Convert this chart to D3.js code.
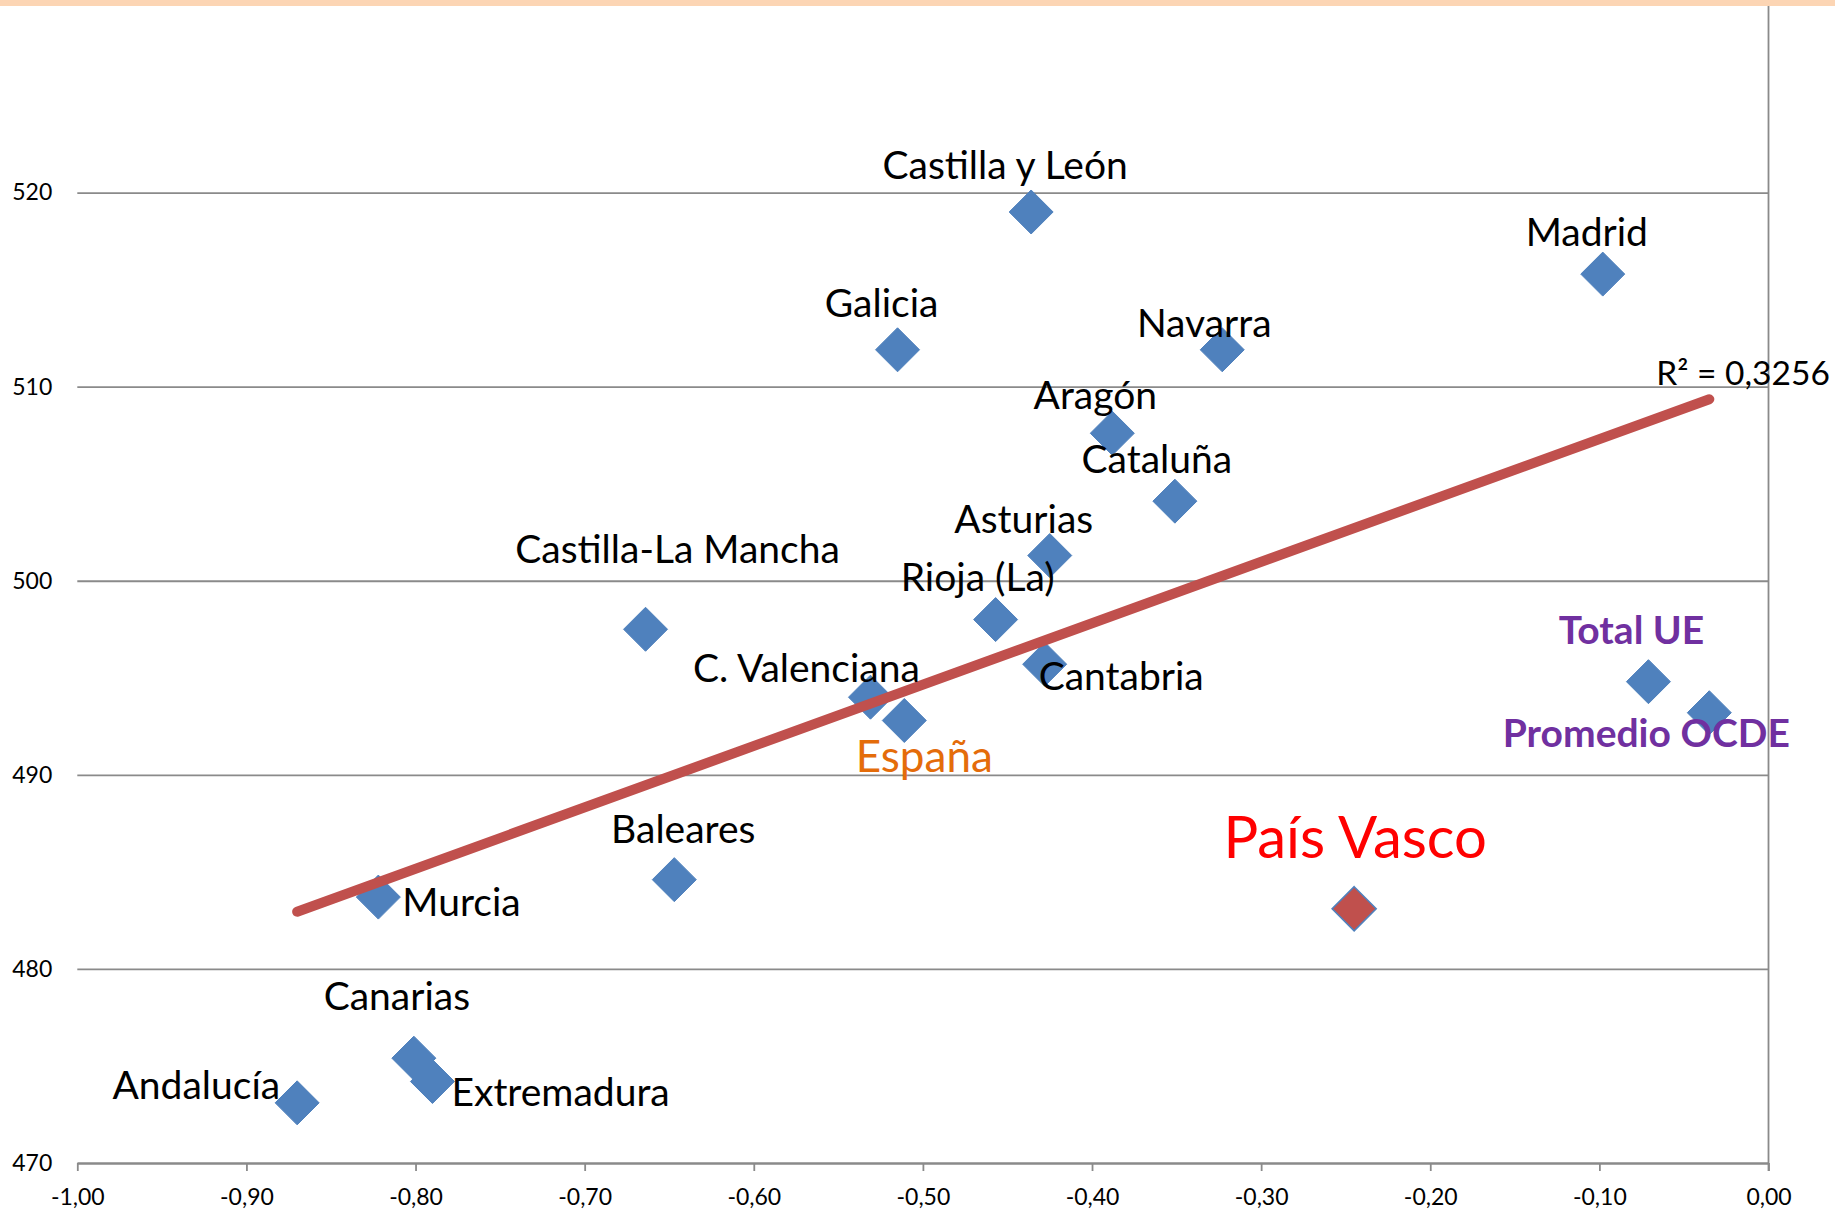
<!DOCTYPE html>
<html>
<head>
<meta charset="utf-8">
<script src="https://cdn.jsdelivr.net/npm/d3@7"></script>
<style>
  body { margin: 0; background: #fff; }
  svg { display: block; }
  text { font-family: Lato, "Open Sans", sans-serif; }
</style>
</head>
<body>
<svg id="chart" width="1835" height="1210"></svg>
<script>
// Regional scores (y) against the socio-economic index gap (x)
const regions = ["Castilla y León", "Madrid", "Galicia", "Navarra", "Aragón", "Cataluña",
  "Asturias", "Rioja (La)", "Castilla-La Mancha", "Cantabria", "C. Valenciana", "España",
  "Total UE", "Promedio OCDE", "Baleares", "Murcia", "País Vasco", "Canarias",
  "Extremadura", "Andalucía"];
const xValues = [-0.436, -0.098, -0.515, -0.323, -0.388, -0.351,
  -0.425, -0.457, -0.664, -0.428, -0.531, -0.511,
  -0.071, -0.035, -0.647, -0.822, -0.245, -0.801,
  -0.790, -0.870];
const yValues = [519.0, 515.8, 511.9, 511.9, 507.6, 504.1,
  501.3, 498.0, 497.5, 495.7, 494.0, 492.8,
  494.8, 493.2, 484.6, 483.7, 483.1, 475.4,
  474.2, 473.1];
const groups = ["region", "region", "region", "region", "region", "region",
  "region", "region", "region", "region", "region", "spain",
  "aggregate", "aggregate", "region", "region", "highlight", "region",
  "region", "region"];
const xTicks = [-1.0, -0.9, -0.8, -0.7, -0.6, -0.5, -0.4, -0.3, -0.2, -0.1, 0.0];
const yTicks = [470, 480, 490, 500, 510, 520, 530];
const r2Text = "R² = 0,3256";

// Label placement relative to each marker (baseline offsets, px)
const labelLayout = {
  "Castilla y León":    { dx: -26,  dy: -33, anchor: "middle" },
  "Madrid":             { dx: -16,  dy: -28, anchor: "middle" },
  "Galicia":            { dx: -16,  dy: -33, anchor: "middle" },
  "Navarra":            { dx: -18,  dy: -13, anchor: "middle" },
  "Aragón":             { dx: -17,  dy: -24, anchor: "middle" },
  "Cataluña":           { dx: -18,  dy: -28, anchor: "middle" },
  "Asturias":           { dx: -26,  dy: -23, anchor: "middle" },
  "Rioja (La)":         { dx: -18,  dy: -29, anchor: "middle" },
  "Castilla-La Mancha": { dx: 32,   dy: -66, anchor: "middle" },
  "Cantabria":          { dx: -6,   dy: 26,  anchor: "start" },
  "C. Valenciana":      { dx: -64,  dy: -15, anchor: "middle" },
  "España":             { dx: 20,   dy: 52,  anchor: "middle" },
  "Total UE":           { dx: -17,  dy: -38, anchor: "middle" },
  "Promedio OCDE":      { dx: -63,  dy: 34,  anchor: "middle" },
  "Baleares":           { dx: 9,    dy: -37, anchor: "middle" },
  "Murcia":             { dx: 24,   dy: 19,  anchor: "start" },
  "País Vasco":         { dx: 1,    dy: -51, anchor: "middle" },
  "Canarias":           { dx: -17,  dy: -48, anchor: "middle" },
  "Extremadura":        { dx: 19,   dy: 25,  anchor: "start" },
  "Andalucía":          { dx: -17,  dy: -4,  anchor: "end" }
};
const labelStyle = {
  region:    { fill: "#000000", size: 39, weight: 400 },
  spain:     { fill: "#E46C0A", size: 44, weight: 400 },
  aggregate: { fill: "#7030A0", size: 39, weight: 700 },
  highlight: { fill: "#FF0000", size: 58, weight: 400 }
};
const markerStyle = {
  region:    { fill: "#4F81BD", stroke: "#4F81BD", sw: 1 },
  spain:     { fill: "#4F81BD", stroke: "#4F81BD", sw: 1 },
  aggregate: { fill: "#4F81BD", stroke: "#4F81BD", sw: 1 },
  highlight: { fill: "#C0504D", stroke: "#4F81BD", sw: 1.6 }
};

const points = regions.map((name, i) => ({ name, x: xValues[i], y: yValues[i], group: groups[i] }));

const svg = d3.select("#chart");
const W = 1835, H = 1210;
svg.append("rect").attr("width", W).attr("height", H).attr("fill", "#fff");

const x = d3.scaleLinear().domain([-1, 0]).range([77.3, 1768.5]);
const y = d3.scaleLinear().domain([470, 530]).range([1163, -1.5]);

const locale = d3.formatLocale({ decimal: ",", thousands: ".", grouping: [3], currency: ["", "€"], minus: "-" });
const fmtX = locale.format(".2f");

const gridColor = "#8a8a8a";

// Horizontal gridlines with value labels on the left
const yAxis = svg.append("g")
  .attr("transform", `translate(${x(-1)},0)`)
  .call(d3.axisLeft(y).tickValues(yTicks).tickSize(-(x(0) - x(-1))).tickPadding(25).tickFormat(d3.format("d")));
yAxis.select(".domain").remove();
yAxis.selectAll(".tick line").attr("stroke", gridColor).attr("stroke-width", 1.8);
yAxis.selectAll(".tick text").attr("fill", "#000").attr("font-size", 23);

// Horizontal axis at the bottom
const xAxis = svg.append("g")
  .attr("transform", `translate(0,${y(470)})`)
  .call(d3.axisBottom(x).tickValues(xTicks).tickSize(8).tickSizeOuter(0).tickFormat(fmtX));
xAxis.select(".domain").attr("stroke", gridColor).attr("stroke-width", 1.8);
xAxis.selectAll(".tick line").attr("stroke", gridColor).attr("stroke-width", 1.8);
xAxis.selectAll(".tick text").attr("fill", "#000").attr("font-size", 23).attr("y", 42).attr("dy", null);

// Vertical axis line where x = 0
svg.append("line")
  .attr("x1", x(0)).attr("x2", x(0))
  .attr("y1", y(530)).attr("y2", y(470) + 8)
  .attr("stroke", gridColor).attr("stroke-width", 1.8);

// Diamond markers
const r = 22;
const diamond = `M0,${-r}L${r},0L0,${r}L${-r},0Z`;
svg.append("g").selectAll("path")
  .data(points)
  .join("path")
  .attr("d", diamond)
  .attr("transform", d => `translate(${x(d.x)},${y(d.y)})`)
  .attr("fill", d => markerStyle[d.group].fill)
  .attr("stroke", d => markerStyle[d.group].stroke)
  .attr("stroke-width", d => markerStyle[d.group].sw);

// Least-squares linear trend across all points
const mx = d3.mean(points, d => d.x);
const my = d3.mean(points, d => d.y);
const slope = d3.sum(points, d => (d.x - mx) * (d.y - my)) / d3.sum(points, d => (d.x - mx) ** 2);
const intercept = my - slope * mx;
const [x0, x1] = d3.extent(points, d => d.x);
const trend = [[x0, intercept + slope * x0], [x1, intercept + slope * x1]];
svg.append("path")
  .datum(trend)
  .attr("d", d3.line().x(d => x(d[0])).y(d => y(d[1])))
  .attr("fill", "none")
  .attr("stroke", "#C0504D")
  .attr("stroke-width", 10)
  .attr("stroke-linecap", "round");

svg.append("text")
  .attr("x", x(trend[1][0]) - 53)
  .attr("y", y(trend[1][1]) - 14)
  .attr("font-size", 33.5)
  .attr("fill", "#000")
  .text(r2Text);

// Point labels
svg.append("g").selectAll("text")
  .data(points)
  .join("text")
  .attr("x", d => x(d.x) + labelLayout[d.name].dx)
  .attr("y", d => y(d.y) + labelLayout[d.name].dy)
  .attr("text-anchor", d => labelLayout[d.name].anchor)
  .attr("font-size", d => labelStyle[d.group].size)
  .attr("font-weight", d => labelStyle[d.group].weight)
  .attr("fill", d => labelStyle[d.group].fill)
  .text(d => d.name);

// Band across the top edge
svg.append("rect").attr("x", 0).attr("y", 0).attr("width", W).attr("height", 6).attr("fill", "#FCD5B4");
</script>
</body>
</html>
